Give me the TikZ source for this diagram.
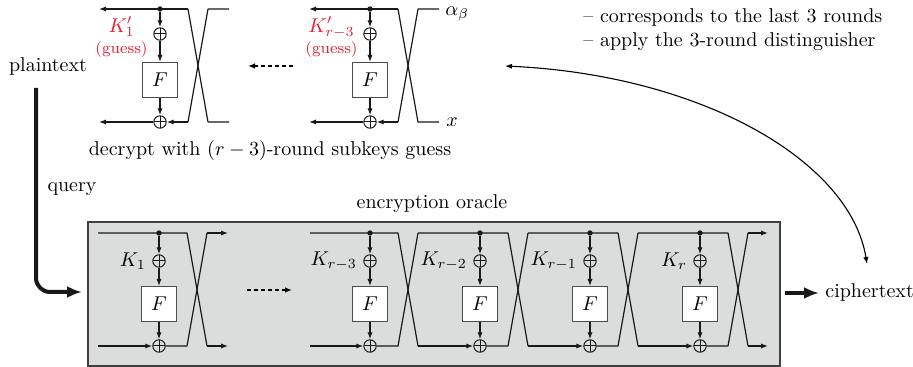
\documentclass[tikz,border=0pt]{standalone}
\usetikzlibrary{arrows.meta}
\definecolor{kred}{RGB}{230,30,50}
\definecolor{oraclegray}{RGB}{219,220,220}
\newcommand\DecRound[2]{%
  \coordinate (#1-tc) at (#2+28,9);
  \coordinate (#1-bc) at (#2+28,122);
  \coordinate (#1-tr) at (#2+48,9);
  \coordinate (#1-br) at (#2+48,122);
  \coordinate (#1-te) at (#2+69,9);
  \coordinate (#1-be) at (#2+69,122);
  \coordinate (#1-tl) at (#2-61,9);
  \coordinate (#1-bl) at (#2-61,122);
  \node[dotn] (#1-d) at (#2,9) {};
  \node[xorn] (#1-x1) at (#2,34) {};
  \node[fbox] (#1-f) at (#2,80) {$F$};
  \node[xorn] (#1-x2) at (#2,122) {};
  \draw[ar] (#1-tc) -- (#1-tl);
  \draw[ar] (#1-d) -- (#1-x1);
  \draw[ar] (#1-x1) -- (#1-f);
  \draw[ar] (#1-f) -- (#1-x2);
  \draw[ar] (#1-x2) -- (#1-bl);
  \draw[ar] (#1-bc) -- (#1-x2);
  \draw[ln] (#1-tc) -- (#1-br) -- (#1-be);
  \draw[ln] (#1-bc) -- (#1-tr) -- (#1-te);
}
\newcommand\EncRound[4]{%
  \coordinate (#1-tc) at (#2+28,233);
  \coordinate (#1-bc) at (#2+28,346);
  \coordinate (#1-tr) at (#2+48,233);
  \coordinate (#1-br) at (#2+48,346);
  \node[dotn] (#1-d) at (#2,233) {};
  \node[xorn] (#1-x1) at (#2,261) {};
  \node[fbox] (#1-f) at (#2,304) {$F$};
  \node[xorn] (#1-x2) at (#2,346) {};
  \draw[ln] (#3) -- (#1-tc) -- (#1-br);
  \draw[ar] (#4) -- (#1-x2);
  \draw[ln] (#1-x2) -- (#1-bc) -- (#1-tr);
  \draw[ar] (#1-d) -- (#1-x1);
  \draw[ar] (#1-x1) -- (#1-f);
  \draw[ar] (#1-f) -- (#1-x2);
}
\begin{document}
\begin{tikzpicture}[x=0.5pt,y=-0.5pt,
  ln/.style={line width=0.6pt,draw=black!90,line join=round},
  ar/.style={ln,-{Latex[length=3.5pt,width=2.6pt]}},
  fbox/.style={draw=black!70,line width=0.55pt,fill=white,minimum size=17.5pt,inner sep=0pt},
  xorn/.style={draw=black!90,circle,minimum size=6.2pt,inner sep=0pt,line width=0.5pt,
    path picture={\draw[line width=0.5pt,black!90] (path picture bounding box.north) -- (path picture bounding box.south)
      (path picture bounding box.west) -- (path picture bounding box.east);}},
  dotn/.style={circle,fill=black!90,inner sep=0pt,minimum size=2.7pt},
  klab/.style={anchor=east,inner sep=1pt},
  guesslab/.style={anchor=east,inner sep=0pt,align=center,text=kred},
  dashar/.style={line width=0.9pt,dash pattern=on 2pt off 1.5pt,-{Latex[length=3.5pt,width=2.8pt]}},
  thickar/.style={line width=2pt,draw=black!90,-{Latex[length=7.5pt,width=6pt]}},
  curvear/.style={line width=0.55pt,{Latex[length=3.5pt,width=2.6pt]}-{Latex[length=3.5pt,width=2.6pt]}}
]
\useasboundingbox (0,0) rectangle (913,367);

% oracle box
\node[draw=black!75,line width=0.8pt,fill=oraclegray,inner sep=0pt,minimum width=692*0.5pt,minimum height=144*0.5pt,anchor=north west] (oracle) at (87,221) {};

% top: decryption rounds
\DecRound{d1}{160}
\DecRound{d2}{370}
\node[guesslab] (g1) at (148,37) {$K'_1$\\[-1.5pt]{\footnotesize(guess)}};
\node[guesslab] (g2) at (358,37) {$K'_{r-3}$\\[-1.5pt]{\footnotesize(guess)}};
\coordinate (dd1) at (293,66);
\coordinate (dd2) at (248,66);
\draw[dashar] (dd1) -- (dd2);
\node[anchor=base west,inner sep=0pt] (alpha) at (445,16) {$\alpha_\beta$};
\node[anchor=base west,inner sep=0pt] (xlab) at (446,127) {$x$};
\node[anchor=base,inner sep=0pt] (dec) at (270,156) {decrypt with $(r-3)$-round subkeys guess};

% bottom: encryption rounds
\coordinate (e1-ti) at (98,233);
\coordinate (e1-bi) at (98,346);
\EncRound{e1}{159}{e1-ti}{e1-bi}
\coordinate (e1-te) at (228,233);
\coordinate (e1-be) at (228,346);
\draw[ar] (e1-tr) -- (e1-te);
\draw[ar] (e1-br) -- (e1-be);
\coordinate (ed1) at (247,290);
\coordinate (ed2) at (292,290);
\draw[dashar] (ed1) -- (ed2);
\coordinate (e2-ti) at (310,233);
\coordinate (e2-bi) at (310,346);
\EncRound{e2}{370}{e2-ti}{e2-bi}
\EncRound{e3}{480}{e2-tr}{e2-br}
\EncRound{e4}{590}{e3-tr}{e3-br}
\EncRound{e5}{700}{e4-tr}{e4-br}
\coordinate (e5-te) at (768,233);
\coordinate (e5-be) at (768,346);
\draw[ar] (e5-tr) -- (e5-te);
\draw[ar] (e5-br) -- (e5-be);
\node[klab] (k1) at ([xshift=-2pt]e1-x1.west) {$K_1$};
\node[klab] (k2) at ([xshift=-2pt]e2-x1.west) {$K_{r-3}$};
\node[klab] (k3) at ([xshift=-2pt]e3-x1.west) {$K_{r-2}$};
\node[klab] (k4) at ([xshift=-2pt]e4-x1.west) {$K_{r-1}$};
\node[klab] (k5) at ([xshift=-2pt]e5-x1.west) {$K_r$};
\node[anchor=base,inner sep=0pt] (orl) at (432,209) {encryption oracle};

% plaintext / ciphertext
\node[anchor=base,inner sep=0pt] (pt) at (48,72) {plaintext};
\node[anchor=base,inner sep=0pt] (query) at (72,192) {query};
\coordinate (pa) at (36,88);
\coordinate (pb) at (82,292);
\draw[thickar,rounded corners=7pt] (pa) |- (pb);
\node[anchor=base west,inner sep=0pt] (ct) at (825,298) {ciphertext};
\coordinate (ca) at (785,293);
\coordinate (cb) at (819,293);
\draw[thickar] (ca) -- (cb);

% notes and curved arrow
\node[anchor=base west,inner sep=0pt] (note1) at (583,23) {-- corresponds to the last 3 rounds};
\node[anchor=base west,inner sep=0pt] (note2) at (583,47) {-- apply the 3-round distinguisher};
\coordinate (c1) at (505,66);
\coordinate (c2) at (867,264);
\draw[curvear] (c1) .. controls (700,75) and (850,160) .. (c2);
\end{tikzpicture}
\end{document}
